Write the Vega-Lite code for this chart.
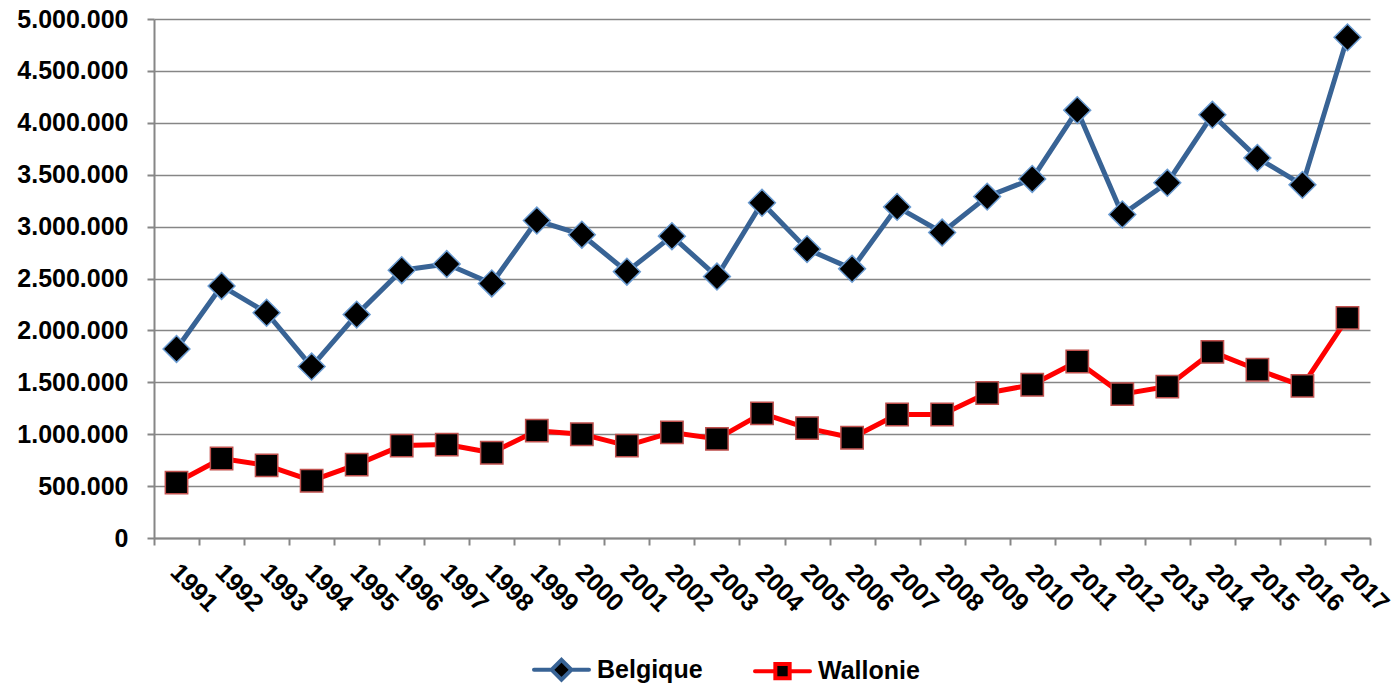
{
  "$schema": "https://vega.github.io/schema/vega-lite/v6.json",
  "width": 1216,
  "height": 519,
  "autosize": {"type": "none"},
  "padding": {"left": 154, "top": 19, "right": 27, "bottom": 148},
  "background": "white",
  "config": {
    "locale": {"number": {"decimal": ",", "thousands": ".", "grouping": [3], "currency": ["", " €"]}},
    "view": {"stroke": null},
    "font": "Liberation Sans"
  },
  "data": {
    "values": [
      {"year": "1991", "series": "Belgique", "value": 1821000},
      {"year": "1992", "series": "Belgique", "value": 2428000},
      {"year": "1993", "series": "Belgique", "value": 2170000},
      {"year": "1994", "series": "Belgique", "value": 1652000},
      {"year": "1995", "series": "Belgique", "value": 2152000},
      {"year": "1996", "series": "Belgique", "value": 2580000},
      {"year": "1997", "series": "Belgique", "value": 2639000},
      {"year": "1998", "series": "Belgique", "value": 2452000},
      {"year": "1999", "series": "Belgique", "value": 3058000},
      {"year": "2000", "series": "Belgique", "value": 2922000},
      {"year": "2001", "series": "Belgique", "value": 2566000},
      {"year": "2002", "series": "Belgique", "value": 2908000},
      {"year": "2003", "series": "Belgique", "value": 2519000},
      {"year": "2004", "series": "Belgique", "value": 3229000},
      {"year": "2005", "series": "Belgique", "value": 2783000},
      {"year": "2006", "series": "Belgique", "value": 2593000},
      {"year": "2007", "series": "Belgique", "value": 3190000},
      {"year": "2008", "series": "Belgique", "value": 2943000},
      {"year": "2009", "series": "Belgique", "value": 3289000},
      {"year": "2010", "series": "Belgique", "value": 3459000},
      {"year": "2011", "series": "Belgique", "value": 4122000},
      {"year": "2012", "series": "Belgique", "value": 3117000},
      {"year": "2013", "series": "Belgique", "value": 3422000},
      {"year": "2014", "series": "Belgique", "value": 4077000},
      {"year": "2015", "series": "Belgique", "value": 3662000},
      {"year": "2016", "series": "Belgique", "value": 3402000},
      {"year": "2017", "series": "Belgique", "value": 4823000},
      {"year": "1991", "series": "Wallonie", "value": 534000},
      {"year": "1992", "series": "Wallonie", "value": 766000},
      {"year": "1993", "series": "Wallonie", "value": 700000},
      {"year": "1994", "series": "Wallonie", "value": 552000},
      {"year": "1995", "series": "Wallonie", "value": 707000},
      {"year": "1996", "series": "Wallonie", "value": 890000},
      {"year": "1997", "series": "Wallonie", "value": 900000},
      {"year": "1998", "series": "Wallonie", "value": 821000},
      {"year": "1999", "series": "Wallonie", "value": 1034000},
      {"year": "2000", "series": "Wallonie", "value": 1000000},
      {"year": "2001", "series": "Wallonie", "value": 890000},
      {"year": "2002", "series": "Wallonie", "value": 1017000},
      {"year": "2003", "series": "Wallonie", "value": 955000},
      {"year": "2004", "series": "Wallonie", "value": 1200000},
      {"year": "2005", "series": "Wallonie", "value": 1059000},
      {"year": "2006", "series": "Wallonie", "value": 966000},
      {"year": "2007", "series": "Wallonie", "value": 1190000},
      {"year": "2008", "series": "Wallonie", "value": 1190000},
      {"year": "2009", "series": "Wallonie", "value": 1397000},
      {"year": "2010", "series": "Wallonie", "value": 1476000},
      {"year": "2011", "series": "Wallonie", "value": 1700000},
      {"year": "2012", "series": "Wallonie", "value": 1386000},
      {"year": "2013", "series": "Wallonie", "value": 1459000},
      {"year": "2014", "series": "Wallonie", "value": 1793000},
      {"year": "2015", "series": "Wallonie", "value": 1621000},
      {"year": "2016", "series": "Wallonie", "value": 1466000},
      {"year": "2017", "series": "Wallonie", "value": 2121000}
    ]
  },
  "encoding": {
    "x": {
      "field": "year",
      "type": "ordinal",
      "scale": {"paddingInner": 0, "paddingOuter": 0},
      "axis": {
        "title": null,
        "tickBand": "extent",
        "labelAngle": 45,
        "labelAlign": "left",
        "labelBaseline": "top",
        "labelFontSize": 25,
        "labelFontWeight": "bold",
        "labelColor": "black",
        "labelOffset": 6,
        "domainColor": "#868686",
        "domainWidth": 2,
        "tickColor": "#868686",
        "tickWidth": 2,
        "tickSize": 7,
        "labelPadding": 14,
        "grid": false
      }
    },
    "y": {
      "field": "value",
      "type": "quantitative",
      "scale": {"domain": [0, 5000000], "nice": false},
      "axis": {
        "title": null,
        "values": [0, 500000, 1000000, 1500000, 2000000, 2500000, 3000000, 3500000, 4000000, 4500000, 5000000],
        "format": ",.0f",
        "labelFontSize": 25,
        "labelFontWeight": "bold",
        "labelColor": "black",
        "domainColor": "#868686",
        "domainWidth": 2,
        "tickColor": "#868686",
        "tickWidth": 2,
        "tickSize": 7,
        "labelPadding": 19,
        "grid": true,
        "gridColor": "#868686",
        "gridWidth": 1.5
      }
    }
  },
  "layer": [
    {
      "mark": {"type": "line", "strokeWidth": 5, "strokeJoin": "round"},
      "encoding": {
        "color": {
          "field": "series",
          "type": "nominal",
          "scale": {"domain": ["Belgique", "Wallonie"], "range": ["#386395", "#FF0000"]},
          "legend": {
            "orient": "none",
            "legendX": 378,
            "legendY": 621,
            "direction": "horizontal",
            "title": null,
            "labelFontSize": 25,
            "labelFontWeight": "bold",
            "labelColor": "black",
            "symbolSize": 3025,
            "symbolStrokeWidth": 4,
            "labelOffset": 6,
            "columnPadding": 44,
            "encode": {
              "symbols": {
                "update": {
                  "shape": {"signal": "datum.value === 'Belgique' ? 'M-1,0H-0.36M0.36,0H1M0,-0.36L0.36,0L0,0.36L-0.36,0Z' : 'M-1,0H-0.26M0.26,0H1M-0.26,-0.26H0.26V0.26H-0.26Z'"},
                  "fill": {"value": "black"},
                  "strokeWidth": {"value": 4},
                  "strokeCap": {"value": "round"}
                }
              }
            }
          }
        }
      }
    },
    {
      "transform": [{"filter": "datum.series === 'Belgique'"}],
      "mark": {"type": "point", "shape": "diamond", "filled": true, "fill": "black", "stroke": "#6A9BD1", "strokeWidth": 1.5, "opacity": 1, "size": 720}
    },
    {
      "transform": [{"filter": "datum.series === 'Wallonie'"}],
      "mark": {"type": "point", "shape": "square", "filled": true, "fill": "black", "stroke": "#C0504D", "strokeWidth": 1.5, "opacity": 1, "size": 500}
    }
  ]
}
